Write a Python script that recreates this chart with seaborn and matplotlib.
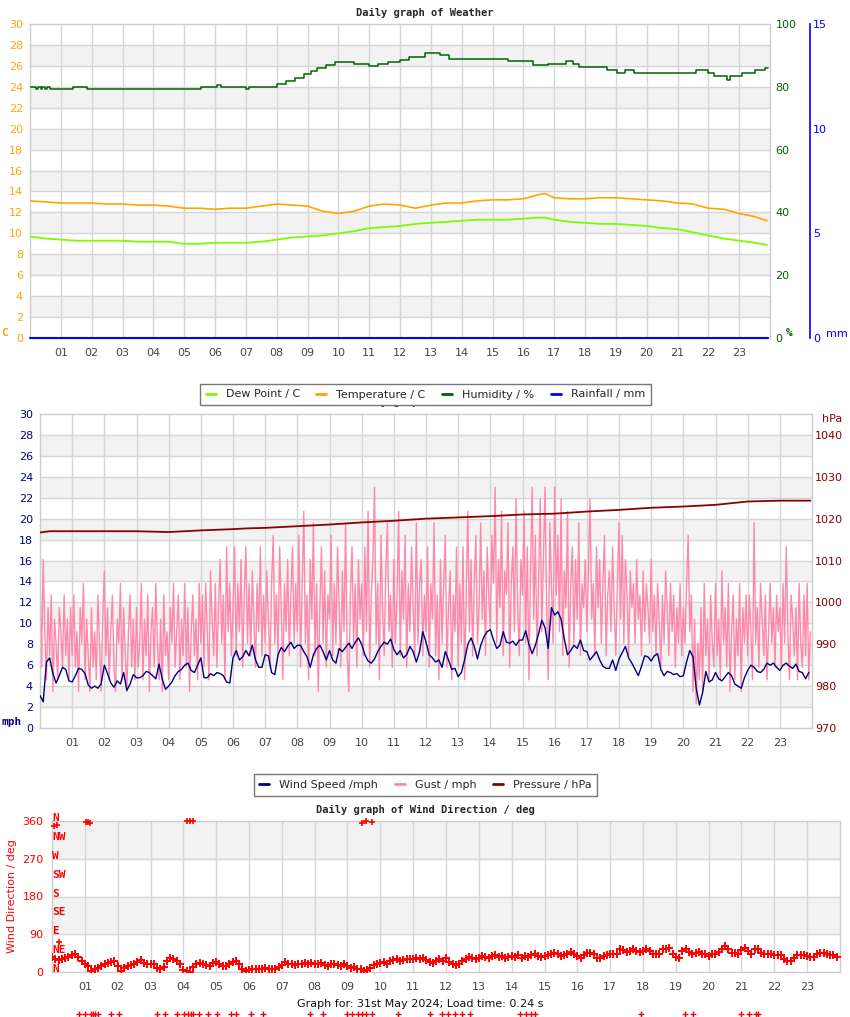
import numpy as np
import pandas as pd
import matplotlib
matplotlib.use('Agg')
import matplotlib.pyplot as plt
import seaborn as sns
from matplotlib.lines import Line2D
import matplotlib.transforms as mtransforms

# -------------------------------------------------
# data (hours of the day)
# -------------------------------------------------

TEMP_HOURS = [0, 0.5, 1, 1.5, 2, 2.5, 3, 3.5, 4, 4.5, 5, 5.5, 6, 6.5, 7, 7.5,
              8, 8.5, 9, 9.5, 10, 10.5, 11, 11.5, 12, 12.5, 13, 13.5, 14, 14.5,
              15, 15.5, 16, 16.5, 16.7, 17, 17.5, 18, 18.5, 19, 19.5, 20, 20.5,
              21, 21.5, 22, 22.5, 23, 23.5, 23.9]
TEMPERATURE = [13.1, 13.0, 12.9, 12.9, 12.9, 12.8, 12.8, 12.7, 12.7, 12.6,
               12.4, 12.4, 12.3, 12.4, 12.4, 12.6, 12.8, 12.7, 12.6, 12.1,
               11.9, 12.1, 12.6, 12.8, 12.7, 12.4, 12.7, 12.9, 12.9, 13.1,
               13.2, 13.2, 13.3, 13.7, 13.8, 13.4, 13.3, 13.3, 13.4, 13.4,
               13.3, 13.2, 13.1, 12.9, 12.8, 12.4, 12.3, 11.9, 11.6, 11.2]
DEW_POINT = [9.7, 9.5, 9.4, 9.3, 9.3, 9.3, 9.3, 9.2, 9.2, 9.2,
             9.0, 9.0, 9.1, 9.1, 9.1, 9.2, 9.4, 9.6, 9.7, 9.8,
             10.0, 10.2, 10.5, 10.6, 10.7, 10.9, 11.0, 11.1, 11.2, 11.3,
             11.3, 11.3, 11.4, 11.5, 11.5, 11.3, 11.1, 11.0, 10.9, 10.9,
             10.8, 10.7, 10.5, 10.4, 10.1, 9.8, 9.5, 9.3, 9.1, 8.9]

HUM_HOURS = [0.0, 0.2, 0.25, 0.35, 0.4, 0.5, 0.55, 0.65, 1.4, 1.85, 5.55,
             6.05, 6.2, 7.0, 7.1, 8.0, 8.3, 8.6, 8.9, 9.1, 9.3, 9.6, 9.9,
             10.5, 11.0, 11.3, 11.6, 12.0, 12.3, 12.8, 13.3, 13.6, 15.5,
             16.3, 16.8, 17.4, 17.6, 17.8, 18.7, 19.05, 19.3, 19.6, 20.2,
             21.6, 22.0, 22.2, 22.6, 22.7, 23.1, 23.5, 23.85, 23.95]
HUMIDITY = [80.0, 79.3, 80.0, 79.3, 80.0, 79.3, 80.0, 79.3, 80.0, 79.3, 80.0,
            80.6, 80.0, 79.3, 80.0, 80.8, 82.0, 82.8, 84.0, 85.0, 86.0, 87.0,
            87.8, 87.4, 86.6, 87.3, 87.8, 88.5, 89.5, 90.8, 90.2, 89.0, 88.3,
            87.0, 87.3, 88.1, 87.3, 86.3, 85.2, 84.4, 85.2, 84.4, 84.4,
            85.2, 84.4, 83.4, 82.2, 83.3, 84.4, 85.2, 86.0, 86.0]

RAIN_HOURS = [0.0, 23.95]
RAINFALL = [0.0, 0.0]

# wind speed, one reading every 0.1 h
WIND_SPEED = [
    3.1, 2.5, 6.3, 6.7, 5.2, 4.3, 5.0, 5.8, 5.6, 4.5,
    4.4, 5.0, 5.7, 5.6, 5.2, 4.1, 3.8, 4.0, 3.8, 4.2,
    6.0, 5.2, 4.3, 3.9, 4.5, 4.2, 5.3, 3.6, 4.2, 5.1,
    4.8, 4.8, 5.0, 5.4, 5.3, 5.0, 4.7, 6.1, 4.7, 3.7,
    4.0, 4.4, 5.0, 5.4, 5.6, 6.0, 6.2, 5.5, 5.3, 6.0,
    6.7, 4.8, 4.8, 5.2, 5.0, 5.3, 5.2, 5.0, 4.4, 4.3,
    6.7, 7.4, 6.5, 6.8, 7.4, 6.9, 7.9, 6.5, 5.8, 5.8,
    7.0, 6.9, 5.3, 5.1, 7.0, 7.7, 7.3, 7.8, 8.2, 7.6,
    7.9, 7.9, 7.3, 6.8, 5.8, 7.0, 7.6, 7.9, 7.3, 6.5,
    7.4, 6.5, 6.2, 7.6, 7.3, 7.7, 8.1, 7.6, 8.2, 8.6,
    8.0, 7.0, 6.4, 6.2, 6.6, 7.3, 7.8, 8.2, 8.0, 8.5,
    7.5, 7.0, 7.4, 6.7, 7.0, 7.8, 7.3, 6.3, 7.3, 9.2,
    8.2, 7.0, 6.7, 6.3, 6.5, 5.8, 7.3, 6.5, 5.6, 5.7,
    4.9, 5.3, 6.5, 8.0, 8.6, 7.8, 6.6, 7.9, 8.7, 9.2,
    9.4, 8.4, 7.6, 7.9, 9.2, 8.2, 8.1, 8.3, 7.9, 8.4,
    8.4, 9.3, 8.0, 7.1, 7.9, 9.0, 10.3, 9.6, 7.6, 11.5,
    10.8, 11.1, 10.4, 8.5, 7.0, 7.4, 7.9, 7.6, 8.4, 7.4,
    7.3, 6.5, 6.9, 7.3, 6.5, 5.9, 5.7, 5.7, 6.5, 5.5,
    6.6, 7.2, 7.8, 6.7, 6.2, 5.6, 5.0, 5.9, 6.9, 6.8,
    6.4, 6.9, 7.1, 5.6, 5.0, 5.4, 5.3, 5.1, 5.2, 4.9,
    5.0, 6.3, 7.4, 6.8, 3.8, 2.2, 3.4, 5.4, 4.4, 4.6,
    5.3, 4.7, 4.5, 4.9, 5.3, 5.0, 4.2, 4.0, 3.8, 4.8,
    5.5, 6.0, 5.8, 5.4, 5.3, 5.6, 6.2, 6.0, 6.2, 5.8,
    5.5, 6.0, 6.2, 5.9, 5.7, 6.1, 5.4, 5.3, 4.7, 5.3,
]

# gusts, one reading every 0.05 h
GUST = [
    16.1, 5.8, 16.1, 9.2, 4.6, 11.5, 6.9, 12.7, 3.5, 10.4, 8.1, 4.6, 11.5, 9.2, 5.8, 12.7, 6.9, 10.4, 4.6, 11.5,
    6.9, 12.7, 5.8, 9.2, 3.5, 11.5, 8.1, 13.8, 4.6, 10.4, 6.9, 3.5, 11.5, 5.8, 9.2, 4.6, 12.7, 8.1, 3.5, 10.4,
    15.0, 6.9, 11.5, 4.6, 9.2, 12.7, 5.8, 3.5, 10.4, 8.1, 13.8, 4.6, 11.5, 6.9, 3.5, 9.2, 12.7, 5.8, 10.4, 4.6,
    11.5, 5.8, 8.1, 13.8, 4.6, 10.4, 6.9, 12.7, 3.5, 9.2, 11.5, 5.8, 13.8, 8.1, 4.6, 10.4, 3.5, 12.7, 6.9, 9.2,
    4.6, 11.5, 8.1, 13.8, 5.8, 9.2, 12.7, 4.6, 10.4, 6.9, 13.8, 5.8, 11.5, 3.5, 9.2, 12.7, 6.9, 10.4, 4.6, 13.8,
    8.1, 12.7, 5.8, 13.8, 9.2, 4.6, 15.0, 10.4, 6.9, 13.8, 5.8, 11.5, 16.1, 8.1, 12.7, 4.6, 17.3, 9.2, 13.8, 6.9,
    11.5, 17.3, 6.9, 13.8, 9.2, 16.1, 5.8, 12.7, 17.3, 8.1, 13.8, 6.9, 15.0, 10.4, 5.8, 13.8, 9.2, 17.3, 6.9, 12.7,
    8.1, 15.0, 10.4, 5.8, 13.8, 18.4, 8.1, 12.7, 6.9, 17.3, 11.5, 4.6, 13.8, 9.2, 16.1, 6.9, 12.7, 17.3, 8.1, 13.8,
    9.2, 18.4, 5.8, 13.8, 20.7, 8.1, 12.7, 4.6, 16.1, 10.4, 19.6, 6.9, 13.8, 3.5, 11.5, 17.3, 8.1, 15.0, 5.8, 12.7,
    10.4, 18.4, 6.9, 13.8, 8.1, 17.3, 11.5, 5.8, 15.0, 9.2, 19.6, 6.9, 3.5, 12.7, 17.3, 8.1, 13.8, 5.8, 16.1, 10.4,
    13.8, 6.9, 17.3, 9.2, 20.7, 5.8, 12.7, 16.1, 23.0, 8.1, 13.8, 4.6, 18.4, 11.5, 6.9, 15.0, 19.6, 9.2, 12.7, 5.8,
    16.1, 8.1, 12.7, 20.7, 6.9, 15.0, 10.4, 18.4, 5.8, 13.8, 9.2, 17.3, 11.5, 6.9, 19.6, 8.1, 13.8, 16.1, 6.9, 12.7,
    9.2, 17.3, 5.8, 13.8, 10.4, 19.6, 6.9, 12.7, 4.6, 16.1, 8.1, 13.8, 18.4, 5.8, 11.5, 15.0, 4.6, 12.7, 9.2, 17.3,
    5.8, 13.8, 8.1, 17.3, 4.6, 12.7, 20.7, 9.2, 16.1, 6.9, 13.8, 18.4, 8.1, 11.5, 19.6, 10.4, 15.0, 6.9, 17.3, 12.7,
    9.2, 18.4, 13.8, 23.0, 8.1, 16.1, 11.5, 20.7, 6.9, 15.0, 12.7, 19.6, 5.8, 13.8, 17.3, 9.2, 21.9, 11.5, 6.9, 16.1,
    12.7, 20.7, 8.1, 17.3, 4.6, 15.0, 23.0, 10.4, 18.4, 6.9, 13.8, 21.9, 9.2, 16.1, 23.0, 11.5, 4.6, 19.6, 13.8, 8.1,
    23.0, 12.7, 18.4, 9.2, 21.9, 6.9, 15.0, 11.5, 20.7, 5.8, 13.8, 17.3, 8.1, 16.1, 10.4, 19.6, 6.9, 13.8, 11.5, 16.1,
    9.2, 15.0, 21.9, 10.4, 13.8, 6.9, 17.3, 11.5, 16.1, 8.1, 13.8, 18.4, 6.9, 12.7, 15.0, 9.2, 17.3, 11.5, 6.9, 13.8,
    19.6, 10.4, 18.4, 8.1, 16.1, 12.7, 6.9, 15.0, 11.5, 13.8, 8.1, 16.1, 10.4, 12.7, 6.9, 15.0, 9.2, 13.8, 11.5, 8.1,
    16.1, 9.2, 12.7, 6.9, 13.8, 10.4, 5.8, 12.7, 8.1, 15.0, 11.5, 6.9, 13.8, 9.2, 12.7, 5.8, 11.5, 8.1, 13.8, 6.9,
    11.5, 8.1, 13.8, 18.4, 9.2, 12.7, 3.5, 10.4, 2.3, 8.1, 4.6, 11.5, 3.5, 13.8, 6.9, 10.4, 4.6, 12.7, 8.1, 5.8,
    13.8, 6.9, 10.4, 4.6, 15.0, 8.1, 11.5, 5.8, 13.8, 3.5, 9.2, 12.7, 4.6, 10.4, 6.9, 13.8, 3.5, 11.5, 8.1, 12.7,
    6.9, 12.7, 9.2, 4.6, 19.6, 8.1, 11.5, 5.8, 13.8, 10.4, 6.9, 12.7, 4.6, 9.2, 13.8, 8.1, 11.5, 5.8, 12.7, 9.2,
    11.5, 5.8, 13.8, 8.1, 17.3, 9.2, 4.6, 12.7, 10.4, 6.9, 11.5, 4.6, 13.8, 8.1, 5.8, 12.7, 6.9, 13.8, 4.6, 9.2,
]

PRESS_HOURS = [0, 0.3, 1, 2, 3, 4, 4.5, 5, 6, 6.5, 7, 8, 9, 10, 11, 12, 13,
               14, 15, 16, 17, 18, 19, 20, 21, 22, 23, 23.95]
PRESSURE = [1016.7, 1017.0, 1017.0, 1017.0, 1017.0, 1016.8, 1017.0, 1017.2,
            1017.5, 1017.7, 1017.8, 1018.2, 1018.6, 1019.1, 1019.5, 1020.0,
            1020.3, 1020.6, 1021.0, 1021.2, 1021.7, 1022.1, 1022.6, 1022.9,
            1023.3, 1024.1, 1024.3, 1024.3]

# wind direction, one reading every 0.1 h
WIND_DIR = [
    36, 30, 28, 32, 34, 35, 40, 42, 36, 26,
    20, 14, 2, 6, 10, 14, 18, 22, 24, 26,
    14, 2, 10, 14, 16, 20, 24, 28, 22, 20,
    20, 18, 10, 8, 12, 26, 34, 30, 26, 20,
    4, 2, 0, 12, 18, 22, 18, 16, 14, 22,
    24, 18, 14, 14, 18, 24, 26, 18, 8, 2,
    4, 6, 6, 8, 6, 10, 8, 6, 8, 12,
    16, 24, 20, 18, 16, 20, 18, 22, 20, 22,
    20, 18, 22, 16, 14, 18, 20, 16, 14, 18,
    14, 10, 12, 8, 6, 2, 4, 10, 16, 18,
    22, 24, 20, 26, 28, 30, 26, 28, 32, 30,
    32, 34, 30, 34, 28, 24, 22, 26, 30, 26,
    34, 24, 18, 16, 20, 26, 32, 36, 34, 30,
    34, 38, 36, 34, 38, 40, 36, 38, 34, 36,
    38, 36, 40, 34, 38, 36, 40, 42, 38, 36,
    38, 40, 42, 46, 42, 38, 40, 44, 47, 44,
    38, 34, 40, 46, 46, 44, 34, 34, 38, 40,
    42, 44, 44, 55, 52, 47, 50, 54, 50, 47,
    50, 54, 50, 44, 44, 44, 54, 56, 58, 42,
    36, 34, 50, 54, 48, 44, 46, 47, 44, 42,
    38, 42, 44, 48, 56, 62, 54, 46, 46, 42,
    52, 58, 50, 44, 54, 54, 46, 44, 42, 42,
    40, 40, 40, 30, 26, 26, 34, 40, 40, 40,
    38, 36, 36, 44, 46, 46, 44, 40, 40, 36,
]
NORTH_HOURS = [0.05, 0.15, 0.2, 1.05, 1.1, 1.15, 4.1, 4.2, 4.3, 9.45, 9.55, 9.75]
NORTH_DIR = [347, 350, 71, 357, 358, 356, 359, 359, 360, 355, 360, 358]
# readings without a direction sit under the axis
CALM_HOURS = [0.82, 1.0, 1.19, 1.25, 1.31, 1.4, 1.79, 2.04, 3.19, 3.43, 3.8,
              4.01, 4.13, 4.22, 4.29, 4.47, 4.74, 5.02, 5.44, 5.59, 6.05, 6.44,
              7.87, 8.24, 9.0, 9.15, 9.33, 9.45, 9.57, 9.76, 10.55, 11.52,
              11.88, 12.07, 12.28, 12.49, 12.74, 14.26, 14.44, 14.59, 14.71,
              17.93, 19.27, 19.51, 20.97, 21.22, 21.43, 21.49]
CALM_DIR = [-100] * len(CALM_HOURS)

HOUR_LABELS = [f'{h:02d}' for h in range(1, 24)]
COMPASS = ['N', 'NE', 'E', 'SE', 'S', 'SW', 'W', 'NW', 'N']

# -------------------------------------------------
# style
# -------------------------------------------------

sns.set_style('white')
plt.rcParams['font.family'] = ['DejaVu Sans']

W, H = 850, 1017
GRID = '#d6d6d6'
BAND = '#f2f2f2'
XTXT = '#444444'
MONO = 'DejaVu Sans Mono'


def rect(left, top, right, bottom):
    return [left / W, 1 - bottom / H, (right - left) / W, (bottom - top) / H]


def fxy(x, y):
    return x / W, 1 - y / H


def panel(ax, ylim, hlines, bands):
    ax.set_xlim(0, 24)
    ax.set_ylim(*ylim)
    for b0, b1 in bands:
        ax.axhspan(b0, b1, color=BAND, lw=0, zorder=0)
    for yv in hlines:
        ax.axhline(yv, color=GRID, lw=1, zorder=0.5)
    for h in range(1, 24):
        ax.axvline(h, color=GRID, lw=1, zorder=0.5)
    for sp in ax.spines.values():
        sp.set_color('#cccccc')
        sp.set_linewidth(1)
    ax.set_xticks(range(1, 24))
    ax.set_xticklabels(HOUR_LABELS, color=XTXT)
    ax.tick_params(axis='x', length=0, pad=7, labelsize=8)
    ax.set_xlabel('')
    ax.set_ylabel('')


fig = plt.figure(figsize=(W / 100, H / 100), dpi=100)

# -------------------------------------------------
# 1. temperature / humidity / rain
# -------------------------------------------------

ax1 = fig.add_axes(rect(30, 24, 770, 338))
panel(ax1, (0, 30), range(2, 30, 2), [(b, b + 2) for b in range(2, 30, 4)])
ax1.set_yticks(range(0, 31, 2))
ax1.tick_params(axis='y', length=0, pad=5, labelsize=8, labelcolor='#ffa500')

weather = pd.DataFrame({'hour': TEMP_HOURS, 'temp': TEMPERATURE, 'dew': DEW_POINT})
sns.lineplot(data=weather, x='hour', y='dew', ax=ax1, color='#7cfc00', lw=1.3, zorder=3)
sns.lineplot(data=weather, x='hour', y='temp', ax=ax1, color='#ffa500', lw=1.2, zorder=3)
ax1.set_xlabel('')
ax1.set_ylabel('')

ax2 = ax1.twinx()
ax2.set_ylim(0, 100)
sns.lineplot(x=HUM_HOURS, y=HUMIDITY, ax=ax2, color='#006400', lw=1.1,
             drawstyle='steps-post')
ax2.set_yticks(range(0, 101, 20))
ax2.tick_params(axis='y', length=0, pad=4, labelsize=8, labelcolor='#006400')
for sp in ax2.spines.values():
    sp.set_visible(False)

ax3 = ax1.twinx()
ax3.set_ylim(0, 15)
sns.lineplot(x=RAIN_HOURS, y=RAINFALL, ax=ax3, color='#0000ff', lw=1.5, clip_on=False)
ax3.set_yticks([0, 5, 10, 15])
ax3.tick_params(axis='y', length=0, pad=2, labelsize=8, labelcolor='#0000ff')
for name, sp in ax3.spines.items():
    sp.set_visible(name == 'right')
# 40 px to the right of the plot area
ax3.spines['right'].set_position(('outward', 40 * 0.72))
ax3.spines['right'].set_color('#0000ff')
ax3.spines['right'].set_linewidth(1.2)
for a in (ax2, ax3):
    a.set_xlabel('')
    a.set_ylabel('')

fig.text(*fxy(425, 13), 'Daily graph of Weather', ha='center', va='center',
         fontsize=7.5, fontweight='bold', family=MONO)
fig.text(*fxy(5, 333), 'C', ha='center', va='center', fontsize=8,
         fontweight='bold', family=MONO, color='#ffa500')
fig.text(*fxy(789, 333), '%', ha='center', va='center', fontsize=8,
         fontweight='bold', family=MONO, color='#006400')
fig.text(*fxy(826, 334), 'mm', ha='left', va='center', fontsize=8, color='#0000ff')

leg1 = fig.legend(
    handles=[Line2D([], [], color=c, lw=2) for c in
             ['#7cfc00', '#ffa500', '#006400', '#0000ff']],
    labels=['Dew Point / C', 'Temperature / C', 'Humidity / %', 'Rainfall / mm'],
    loc='center', bbox_to_anchor=fxy(425.5, 394.5), ncol=4, fontsize=8,
    frameon=True, fancybox=False, edgecolor='#777777', framealpha=1,
    handlelength=0.9, handletextpad=0.9, columnspacing=1.5, borderpad=0.5)
leg1.set_zorder(10)

# -------------------------------------------------
# 2. wind speed / gust / pressure
# -------------------------------------------------

# second title, mostly hidden behind the legend above it
fig.text(*fxy(425, 402), 'Daily graph of Weather', ha='center', va='center',
         fontsize=7.5, fontweight='bold', family=MONO, zorder=1)

ax4 = fig.add_axes(rect(40, 414, 812, 728))
panel(ax4, (0, 30), range(2, 30, 2), [(b, b + 2) for b in range(2, 30, 4)])
ax4.set_yticks(range(0, 31, 2))
ax4.tick_params(axis='y', length=0, pad=5, labelsize=8, labelcolor='#000080')

gust = pd.DataFrame({'hour': np.arange(len(GUST)) * 0.05, 'gust': GUST})
speed = pd.DataFrame({'hour': np.arange(len(WIND_SPEED)) * 0.1, 'speed': WIND_SPEED})
sns.lineplot(data=gust, x='hour', y='gust', ax=ax4, color='#ff88aa', lw=1.0, zorder=2)
sns.lineplot(data=speed, x='hour', y='speed', ax=ax4, color='#000080', lw=1.0, zorder=3)
ax4.set_xlabel('')
ax4.set_ylabel('')

ax5 = ax4.twinx()
ax5.set_ylim(970, 1045)
sns.lineplot(x=PRESS_HOURS, y=PRESSURE, ax=ax5, color='#8b0000', lw=1.3)
ax5.set_yticks(range(970, 1041, 10))
ax5.tick_params(axis='y', length=0, pad=2, labelsize=8, labelcolor='#8b0000')
for sp in ax5.spines.values():
    sp.set_visible(False)
ax5.set_xlabel('')
ax5.set_ylabel('')

fig.text(*fxy(12, 722), 'mph', ha='center', va='center', fontsize=8,
         fontweight='bold', family=MONO, color='#000080')
fig.text(*fxy(832, 419), 'hPa', ha='center', va='center', fontsize=8,
         color='#8b0000')

leg2 = fig.legend(
    handles=[Line2D([], [], color=c, lw=2) for c in
             ['#000080', '#ff88aa', '#8b0000']],
    labels=['Wind Speed /mph', 'Gust / mph', 'Pressure / hPa'],
    loc='center', bbox_to_anchor=fxy(425.5, 785), ncol=3, fontsize=8,
    frameon=True, fancybox=False, edgecolor='#777777', framealpha=1,
    handlelength=0.9, handletextpad=0.9, columnspacing=1.5, borderpad=0.5)
leg2.set_zorder(10)

# -------------------------------------------------
# 3. wind direction
# -------------------------------------------------

ax6 = fig.add_axes(rect(52, 821, 840, 972))
panel(ax6, (0, 360), [90, 180, 270], [(90, 180), (270, 360)])
ax6.set_yticks([0, 90, 180, 270, 360])
ax6.tick_params(axis='y', length=0, pad=6, labelsize=8, labelcolor='#ff0000')

direction = pd.DataFrame({'hour': np.arange(len(WIND_DIR)) * 0.1, 'deg': WIND_DIR})
sns.scatterplot(data=direction, x='hour', y='deg', ax=ax6, marker='+', s=30,
                color='#ff0000', linewidth=1.4, zorder=3)
sns.scatterplot(x=NORTH_HOURS, y=NORTH_DIR, ax=ax6, marker='+', s=24,
                color='#ff0000', linewidth=1.2, zorder=3, clip_on=False)
sns.scatterplot(x=CALM_HOURS, y=CALM_DIR, ax=ax6, marker='+', s=14,
                color='#ff0000', linewidth=1.0, zorder=3, clip_on=False)
ax6.set_xlabel('')
ax6.set_ylabel('Wind Direction / deg', color='#ff0000', fontsize=8, labelpad=4)

tr = mtransforms.blended_transform_factory(ax6.transAxes, ax6.transData)
for i, name in enumerate(COMPASS):
    ax6.text(0.0, i * 45 + 7, name, transform=tr, ha='left', va='center',
             fontsize=8, fontweight='bold', family=MONO, color='#ff0000',
             zorder=4, clip_on=False)

fig.text(*fxy(425, 810), 'Daily graph of Wind Direction / deg', ha='center',
         va='center', fontsize=7.5, fontweight='bold', family=MONO)
fig.text(*fxy(420, 1004), 'Graph for: 31st May 2024; Load time: 0.24 s',
         ha='center', va='center', fontsize=8, color='#111111')

fig.savefig('out.png', dpi=100)
